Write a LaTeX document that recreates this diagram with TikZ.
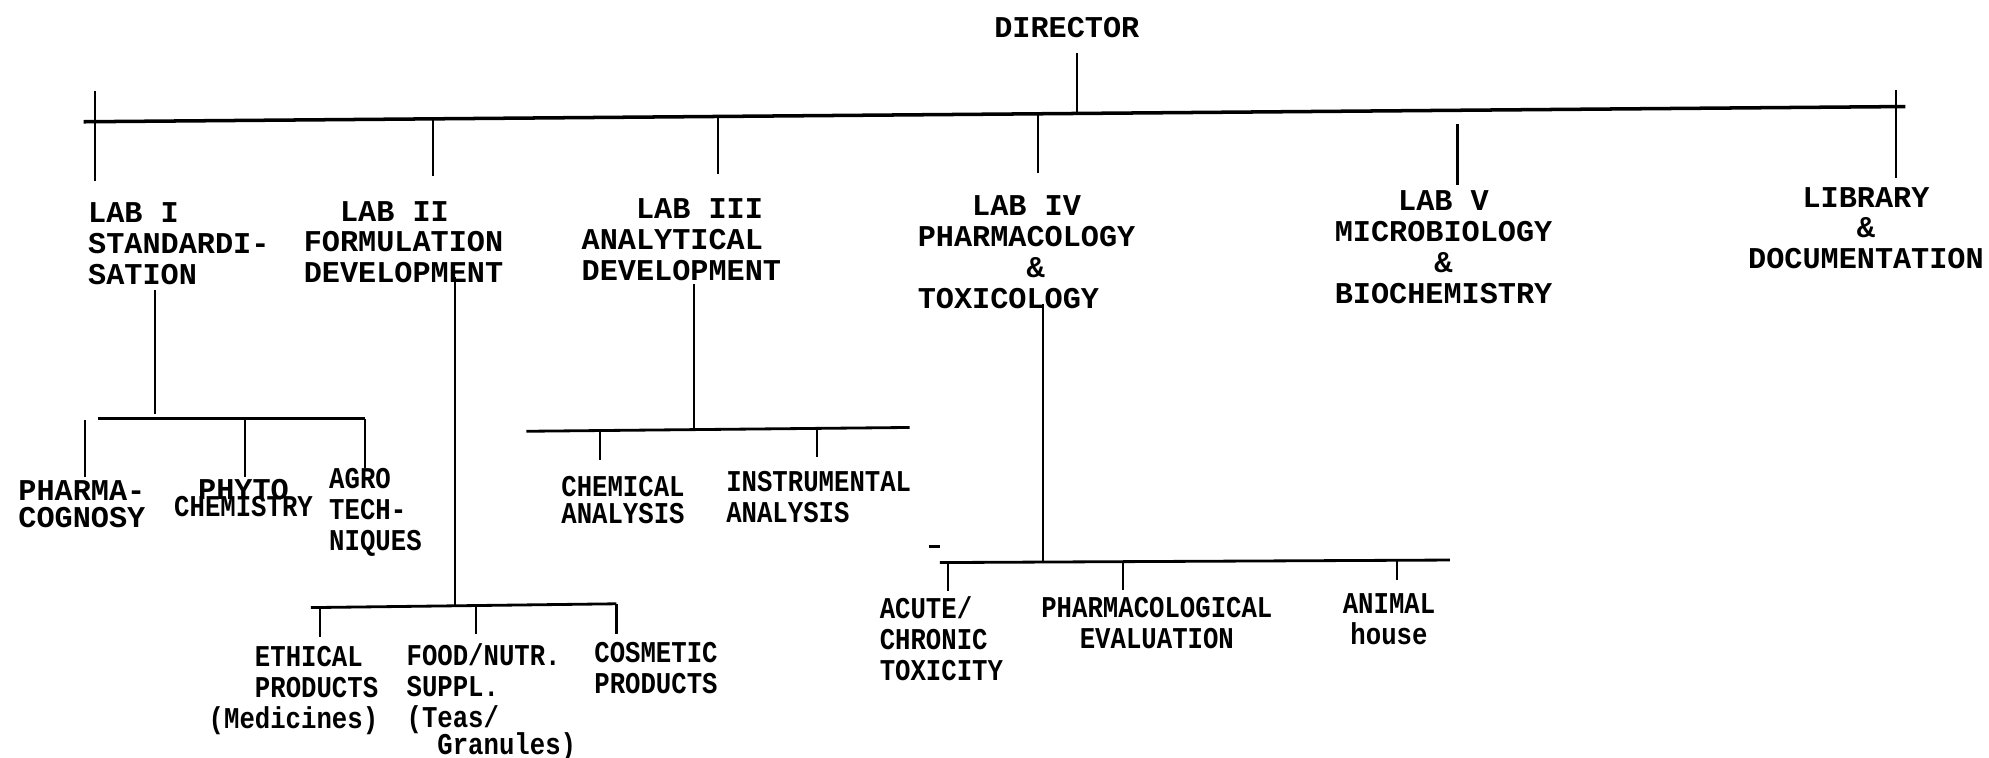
\documentclass[tikz,border=0pt]{standalone}
\usepackage{fontspec}
\newfontfamily\mainfnt{Liberation Mono}
\newfontfamily\narrowfnt[FakeStretch=0.85]{Liberation Mono}
\tikzset{
  lbl/.style={inner sep=0pt, font=\mainfnt\bfseries\fontsize{8.6}{8.8}\selectfont},
  sublbl/.style={inner sep=0pt, font=\narrowfnt\bfseries\fontsize{8.6}{8.8}\selectfont},
  mainbar/.style={line width=1pt},
  subbar/.style={line width=0.8pt},
  stem/.style={line width=0.6pt},
}
\begin{document}
\begin{tikzpicture}[x=0.0127cm,y=-0.0127cm]
\useasboundingbox (0,0) rectangle (1568,597);

% ---------- top level labels
\node[lbl,anchor=north] (dir) at (841,13) {DIRECTOR};
\node[lbl,anchor=north west,align=left] (lab1) at (69,159) {LAB I\\STANDARDI-\\SATION};
\node[lbl,anchor=north west,align=left] (lab2) at (239,158) {\phantom{XX}LAB II\\FORMULATION\\DEVELOPMENT};
\node[lbl,anchor=north west,align=left] (lab3) at (458,156) {\phantom{XXX}LAB III\\ANALYTICAL\\DEVELOPMENT};
\node[lbl,anchor=north west,align=left] (lab4) at (723,154) {\phantom{XXX}LAB IV\\PHARMACOLOGY\\\phantom{XXXXXX}\&\\TOXICOLOGY};
\node[lbl,anchor=north,align=center] (lab5) at (1138,150) {LAB V\\MICROBIOLOGY\\\&\\BIOCHEMISTRY};
\node[lbl,anchor=north,align=center] (lib) at (1471,147) {LIBRARY\\\&\\DOCUMENTATION};

% ---------- lower labels
\node[lbl,anchor=north west,align=left] (pharma) at (14,378) {PHARMA-\\[-1pt]COGNOSY};
\node[sublbl,anchor=north,align=center] (phyto) at (192,377) {{\mainfnt PHYTO}\\[-3.8pt]CHEMISTRY};
\node[sublbl,anchor=north west,align=left] (agro) at (259,369) {AGRO\\TECH-\\NIQUES};
\node[sublbl,anchor=north west,align=left] (chem) at (442,375) {CHEMICAL\\[-1.2pt]ANALYSIS};
\node[sublbl,anchor=north west,align=left] (instr) at (572,371) {INSTRUMENTAL\\ANALYSIS};
\node[sublbl,anchor=north west,align=left] (ethical) at (164,508) {\phantom{(Me}ETHICAL\\\phantom{(Me}PRODUCTS\\(Medicines)};
\node[sublbl,anchor=north west,align=left] (food) at (320,507) {FOOD/NUTR.\\SUPPL.\\(Teas/\\[-1pt]\phantom{XX}Granules)};
\node[sublbl,anchor=north west,align=left] (cosm) at (468,506) {COSMETIC\\PRODUCTS};
\node[sublbl,anchor=north west,align=left] (acute) at (693,470) {ACUTE/\\CHRONIC\\TOXICITY};
\node[sublbl,anchor=north,align=center] (pharmev) at (912,470.5) {PHARMACOLOGICAL\\EVALUATION};
\node[sublbl,anchor=north,align=center] (animal) at (1095,467.5) {ANIMAL\\house};

% ---------- main bar
\coordinate (bl) at (66,96);
\coordinate (br) at (1502,84);
\draw[mainbar] (bl) -- (br);
\coordinate (d1) at (849,42);   \coordinate (d2) at (849,89.5);
\draw[stem] (d1) -- (d2);
\coordinate (a1) at (75,72);    \coordinate (a2) at (75,143);
\coordinate (b1) at (341,93.7); \coordinate (b2) at (341,139);
\coordinate (c1) at (566,91.8); \coordinate (c2) at (566,137);
\coordinate (e1) at (818,89.7); \coordinate (e2) at (818,136);
\coordinate (f1) at (1149,98);  \coordinate (f2) at (1149,146);
\coordinate (g1) at (1495,71);  \coordinate (g2) at (1495,140);
\foreach \p in {a,b,c,e,f,g} \draw[stem] (\p1) -- (\p2);

% ---------- LAB I branch
\coordinate (l1t) at (122,229); \coordinate (l1b) at (122,326);
\draw[stem] (l1t) -- (l1b);
\coordinate (l1L) at (77,330);  \coordinate (l1R) at (288,330);
\draw[subbar] (l1L) -- (l1R);
\coordinate (p1) at (67,331);   \coordinate (p2) at (67,376);
\coordinate (q1) at (193,330);  \coordinate (q2) at (193,376);
\coordinate (r1) at (288,330);  \coordinate (r2) at (288,369);
\foreach \p in {p,q,r} \draw[stem] (\p1) -- (\p2);

% ---------- LAB II branch
\coordinate (l2t) at (359,218); \coordinate (l2b) at (359,477.5);
\draw[stem] (l2t) -- (l2b);
\coordinate (l2L) at (245,479); \coordinate (l2R) at (486,476);
\draw[subbar] (l2L) -- (l2R);
\coordinate (h1) at (252,479);  \coordinate (h2) at (252,502);
\coordinate (i1) at (375,477.5);\coordinate (i2) at (375,500);
\coordinate (j1) at (486,476);  \coordinate (j2) at (486,500);
\foreach \p in {h,i,j} \draw[stem] (\p1) -- (\p2);

% ---------- LAB III branch
\coordinate (l3t) at (547,224); \coordinate (l3b) at (547,339);
\draw[stem] (l3t) -- (l3b);
\coordinate (l3L) at (415,340); \coordinate (l3R) at (717,337);
\draw[subbar] (l3L) -- (l3R);
\coordinate (k1) at (473,339.5);\coordinate (k2) at (473,363);
\coordinate (m1) at (644,338);  \coordinate (m2) at (644,360);
\foreach \p in {k,m} \draw[stem] (\p1) -- (\p2);

% ---------- LAB IV branch
\coordinate (l4t) at (822,240); \coordinate (l4b) at (822,442);
\draw[stem] (l4t) -- (l4b);
\coordinate (l4L) at (741,443.5); \coordinate (l4R) at (1143,441.5);
\draw[subbar] (l4L) -- (l4R);
\coordinate (n1) at (747,443.5); \coordinate (n2) at (747,466);
\coordinate (o1) at (885,443);   \coordinate (o2) at (885,465);
\coordinate (s1) at (1101,442);  \coordinate (s2) at (1101,457);
\foreach \p in {n,o,s} \draw[stem] (\p1) -- (\p2);
\coordinate (dashL) at (732,431); \coordinate (dashR) at (741,431);
\draw[line width=1pt] (dashL) -- (dashR);
\end{tikzpicture}
\end{document}
